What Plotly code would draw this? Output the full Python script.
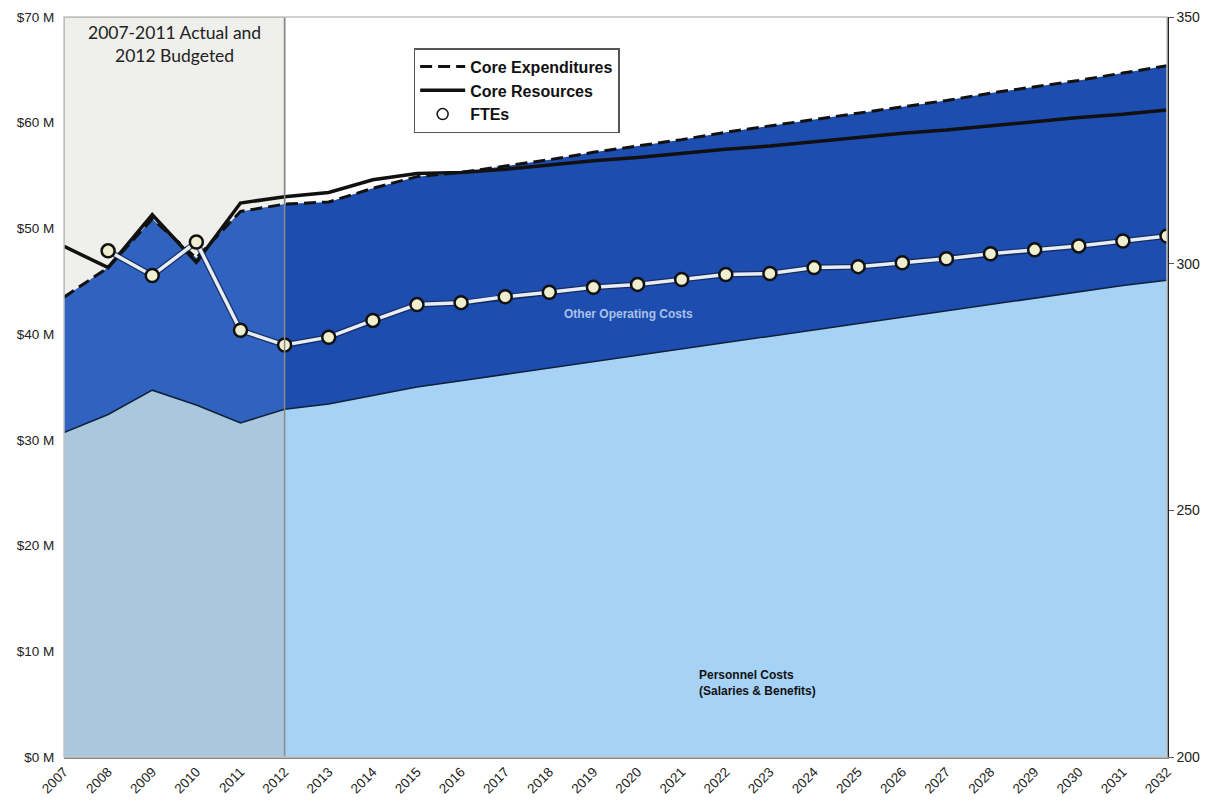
import plotly.graph_objects as go

years = list(range(2007, 2033))

# $ millions
personnel_costs = [30.7, 32.4, 34.7, 33.3, 31.6, 32.9, 33.4, 34.2, 35.0, 35.6, 36.2, 36.8, 37.4,
                   38.0, 38.6, 39.2, 39.8, 40.4, 41.0, 41.6, 42.2, 42.8, 43.4, 44.0, 44.6, 45.1]
core_expenditures = [43.5, 46.3, 50.9, 47.2, 51.6, 52.3, 52.5, 53.8, 54.9, 55.3, 55.9, 56.5, 57.2,
                     57.8, 58.4, 59.1, 59.7, 60.3, 60.9, 61.5, 62.1, 62.8, 63.4, 64.0, 64.7, 65.4]
core_resources = [48.3, 46.3, 51.3, 46.8, 52.4, 53.0, 53.4, 54.6, 55.2, 55.3, 55.6, 56.0, 56.4,
                  56.7, 57.1, 57.5, 57.8, 58.2, 58.6, 59.0, 59.3, 59.7, 60.1, 60.5, 60.8, 61.2]
# FTEs (right axis), no value for 2007
ftes = [None, 302.6, 297.6, 304.4, 286.5, 283.5, 285.1, 288.5, 291.7, 292.1, 293.3, 294.2, 295.2,
        295.8, 296.8, 297.8, 298.0, 299.2, 299.4, 300.2, 301.0, 302.0, 302.8, 303.6, 304.6, 305.6]

left_ticks = [0, 10, 20, 30, 40, 50, 60, 70]
left_ticktext = ["$%d M" % v for v in left_ticks]
right_ticks = [200, 250, 300, 350]

ARIAL = "Arial, Liberation Sans, sans-serif"
h = 6  # index of 2012, end of actual/budgeted period

fig = go.Figure()

# actual / budgeted period (greyed colours)
fig.add_trace(go.Scatter(x=years[:h], y=personnel_costs[:h], mode="lines", fill="tozeroy",
                         fillcolor="#a9c7dd", line=dict(color="#10203a", width=1.5),
                         showlegend=False, hoverinfo="skip"))
fig.add_trace(go.Scatter(x=years[:h], y=core_expenditures[:h], mode="lines", fill="tonexty",
                         fillcolor="#3062bf", line=dict(width=0),
                         showlegend=False, hoverinfo="skip"))
# projection period
fig.add_trace(go.Scatter(x=years[h - 1:], y=personnel_costs[h - 1:], mode="lines", fill="tozeroy",
                         fillcolor="#a6d2f6", line=dict(color="#10203a", width=1.5),
                         showlegend=False, hoverinfo="skip"))
fig.add_trace(go.Scatter(x=years[h - 1:], y=core_expenditures[h - 1:], mode="lines", fill="tonexty",
                         fillcolor="#1e4db0", line=dict(width=0),
                         showlegend=False, hoverinfo="skip"))

fig.add_trace(go.Scatter(x=years, y=core_expenditures, mode="lines", name="<b>Core Expenditures</b>",
                         line=dict(color="#111111", width=3, dash="12px,6px")))
fig.add_trace(go.Scatter(x=years, y=core_resources, mode="lines", name="<b>Core Resources</b>",
                         line=dict(color="#111111", width=3.5)))

# FTE line on right axis
fig.add_trace(go.Scatter(x=years, y=ftes, yaxis="y2", mode="lines",
                         line=dict(color="rgba(20,35,80,0.8)", width=6),
                         showlegend=False, hoverinfo="skip"))
fig.add_trace(go.Scatter(x=years, y=ftes, yaxis="y2", mode="lines+markers", name="FTEs",
                         line=dict(color="#e6eef2", width=3.5),
                         marker=dict(size=13, color="#efefcf", line=dict(color="#111111", width=2.5)),
                         showlegend=False))
fig.add_trace(go.Scatter(x=[None], y=[None], yaxis="y2", mode="markers", name="<b>FTEs</b>",
                         marker=dict(size=11, color="white", line=dict(color="#111111", width=1.5))))

fig.add_shape(type="rect", xref="x", yref="y", x0=2007, x1=2012, y0=0, y1=70,
              fillcolor="#efefec", line=dict(color="#9a9a9a", width=1.5), layer="below")
fig.add_shape(type="line", xref="x", yref="y", x0=2012, x1=2012, y0=0, y1=70,
              line=dict(color="#8a8a8a", width=1.5), layer="above")
fig.add_shape(type="rect", xref="paper", yref="paper", x0=0, x1=1, y0=0, y1=1,
              line=dict(color="#c4c4c4", width=1.5), fillcolor="rgba(0,0,0,0)")

fig.add_annotation(x=2009.5, y=0.996, xref="x", yref="paper", yanchor="top",
                   text="2007-2011 Actual and<br>2012 Budgeted", showarrow=False,
                   font=dict(family="Lato, Open Sans, sans-serif", size=17.5, color="#222222"))
fig.add_annotation(x=2019.8, y=41.9, xref="x", yref="y", text="<b>Other Operating Costs</b>",
                   showarrow=False, font=dict(family=ARIAL, size=12, color="#a9c1e8"))
fig.add_annotation(x=2021.35, y=7.0, xref="x", yref="y", xanchor="left", align="left",
                   text="<b>Personnel Costs<br>(Salaries & Benefits)</b>",
                   showarrow=False, font=dict(family=ARIAL, size=12, color="#111111"))

# page body has an 8px margin, so the figure is sized to fill the window exactly
fig.update_layout(
    width=1192, height=788,
    margin=dict(l=56, r=33, t=9, b=39, autoexpand=False),
    paper_bgcolor="white", plot_bgcolor="white",
    font=dict(family=ARIAL, size=13, color="#222222"),
    xaxis=dict(range=[2007, 2032], tickvals=years, ticktext=[str(y) for y in years],
               tickangle=-45, showgrid=False, zeroline=False, showline=True,
               linecolor="#888888", linewidth=1.5, ticks="", tickfont=dict(size=13.5)),
    yaxis=dict(range=[0, 70], tickvals=left_ticks, ticktext=left_ticktext, showgrid=False,
               zeroline=False, showline=False, ticks="outside", ticklen=6,
               tickcolor="rgba(0,0,0,0)", tickfont=dict(size=13.5),
               ticklabeloverflow="allow"),
    yaxis2=dict(range=[200, 350], tickvals=right_ticks, overlaying="y", side="right",
                showgrid=False, zeroline=False, showline=True, linecolor="#222222",
                linewidth=1.5, ticks="outside", ticklen=5, tickcolor="#555555",
                tickfont=dict(size=14), ticklabeloverflow="allow"),
    legend=dict(x=0.317, y=0.958, xanchor="left", yanchor="top", traceorder="normal",
                bgcolor="white", bordercolor="#555555", borderwidth=1.5,
                font=dict(family=ARIAL, size=16, color="#111111"),
                tracegroupgap=0, itemwidth=45),
    showlegend=True,
)

fig.write_html("out.html")
